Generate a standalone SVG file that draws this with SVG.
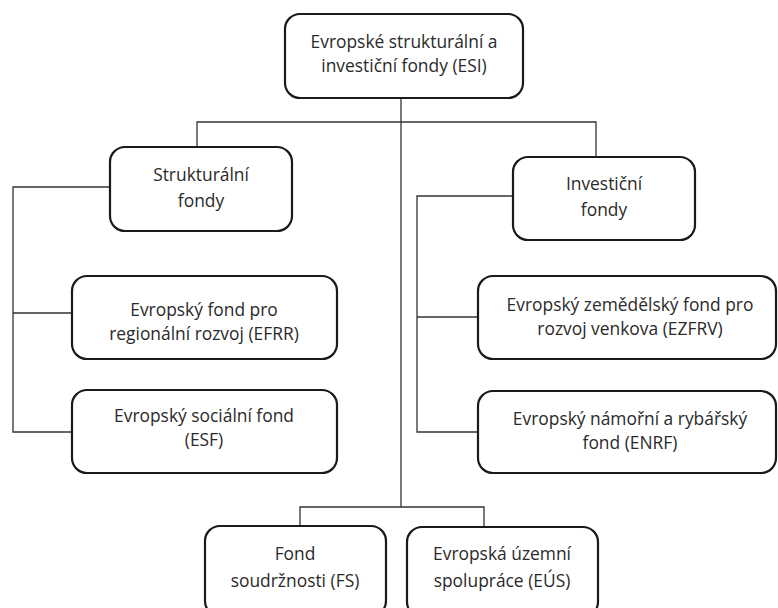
<svg xmlns="http://www.w3.org/2000/svg" width="778" height="608" viewBox="0 0 778 608">
<style>
.box{fill:#fff;stroke:#1a1a1a;stroke-width:2.2}
.ln{fill:none;stroke:#333;stroke-width:1.3}
text{font-family:"Open Sans","Liberation Sans",sans-serif;font-size:17.4px;fill:#2a2a2a;text-anchor:middle}
</style>
<rect width="778" height="608" fill="#fff"/>
<g id="connectors">
<path class="ln" d="M401 98 V507"/>
<path class="ln" d="M197 147 V122 H596 V157"/>
<path class="ln" d="M110 187 H13 V432 H72 M13 313 H72"/>
<path class="ln" d="M513 196 H417 V432 H478 M417 317 H478"/>
<path class="ln" d="M300 526 V507 H484 V527"/>
</g>
<g id="esi"><rect class="box" x="285" y="14" width="238" height="84" rx="15"/>
<text x="404" y="48">Evropské strukturální a</text><text x="404" y="72">investiční fondy (ESI)</text></g>
<g id="strukturalni"><rect class="box" x="110" y="147" width="182" height="84" rx="15"/>
<text x="201" y="181">Strukturální</text><text x="201" y="207">fondy</text></g>
<g id="investicni"><rect class="box" x="513" y="157" width="182" height="83" rx="15"/>
<text x="604" y="190">Investiční</text><text x="604" y="216">fondy</text></g>
<g id="efrr"><rect class="box" x="72" y="276" width="265" height="83" rx="15"/>
<text x="204" y="316">Evropský fond pro</text><text x="204" y="340">regionální rozvoj (EFRR)</text></g>
<g id="esf"><rect class="box" x="72" y="390" width="265" height="83" rx="15"/>
<text x="204" y="422">Evropský sociální fond</text><text x="204" y="446">(ESF)</text></g>
<g id="ezfrv"><rect class="box" x="478" y="276" width="298" height="83" rx="15"/>
<text x="630" y="311">Evropský zemědělský fond pro</text><text x="630" y="335">rozvoj venkova (EZFRV)</text></g>
<g id="enrf"><rect class="box" x="478" y="391" width="298" height="82" rx="15"/>
<text x="630" y="425">Evropský námořní a rybářský</text><text x="630" y="449">fond (ENRF)</text></g>
<g id="fs"><rect class="box" x="205" y="526" width="181" height="90" rx="15"/>
<text x="295" y="560">Fond</text><text x="295" y="587">soudržnosti (FS)</text></g>
<g id="eus"><rect class="box" x="407" y="527" width="191" height="90" rx="15"/>
<text x="502" y="560">Evropská územní</text><text x="502" y="587">spolupráce (EÚS)</text></g>
</svg>
